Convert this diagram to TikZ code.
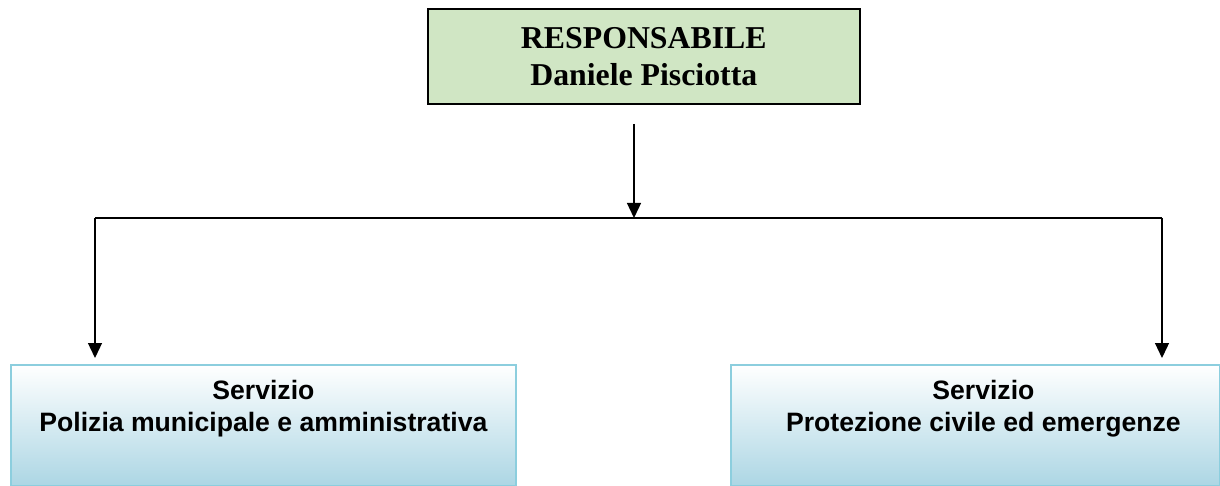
\documentclass[tikz,border=0pt]{standalone}
\usepackage{fontspec}
\setmainfont{Liberation Serif}
\setsansfont{Liberation Sans}
\usetikzlibrary{arrows.meta}
\definecolor{topgreen}{RGB}{208,230,196}
\definecolor{boxblue}{RGB}{140,206,222}
\definecolor{shadeblue}{RGB}{172,214,228}
\tikzset{
  headbox/.style={draw=black, line width=1.6pt, fill=topgreen, minimum width=432pt, minimum height=95pt, anchor=north west, inner sep=0pt},
  servbox/.style={draw=boxblue, line width=1.8pt, top color=white, bottom color=shadeblue, anchor=north west, inner sep=0pt},
  servtext/.style={align=center, font=\sffamily\bfseries\fontsize{26.6}{32}\selectfont, anchor=north, inner sep=0pt},
  conn/.style={line width=1.3pt, draw=black},
  arr/.style={conn, -{Triangle[length=15pt,width=14pt]}},
}
\begin{document}
\begin{tikzpicture}[x=1pt,y=-1pt]
\useasboundingbox (0,0) rectangle (1220,486);
\node[headbox] (head) at (427,8) {};
\node[align=center, font=\rmfamily\bfseries\fontsize{31.8}{37}\selectfont] (headtext) at (head.center) {RESPONSABILE\\Daniele Pisciotta};

\node[servbox, minimum width=505pt, minimum height=121pt] (left) at (10,364) {};
\node[servbox, minimum width=489pt, minimum height=121pt] (right) at (730,364) {};
\node[servtext] (lt) at ([yshift=-16pt]left.north) {Servizio\\Polizia municipale e amministrativa};
\node[servtext] (rt) at ([xshift=8pt,yshift=-16pt]right.north) {Servizio\\Protezione civile ed emergenze};

\coordinate (top) at (634,124);
\coordinate (mid) at (634,218);
\coordinate (lc) at (95,218);
\coordinate (rc) at (1162,218);
\coordinate (la) at (95,358);
\coordinate (ra) at (1162,358);
\draw[arr] (top) -- (mid);
\draw[conn] (lc) -- (rc);
\draw[arr] (lc) -- (la);
\draw[arr] (rc) -- (ra);
\end{tikzpicture}
\end{document}
